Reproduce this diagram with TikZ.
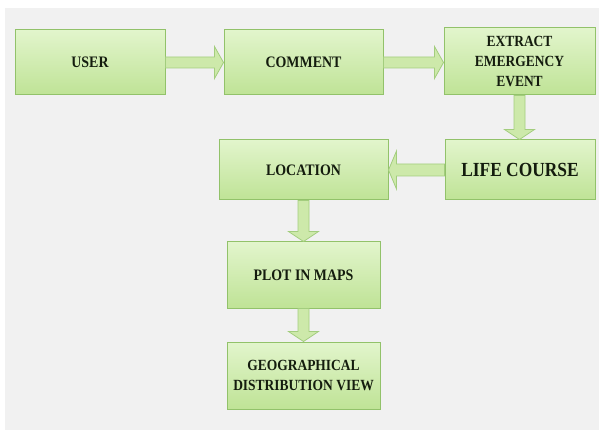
\documentclass[tikz,border=0pt]{standalone}
\usepackage{fontspec}
\setmainfont{Liberation Serif}[FakeStretch=0.87]
\usetikzlibrary{calc}
\definecolor{bgc}{HTML}{F1F1F1}
\definecolor{boxline}{HTML}{92C26A}
\definecolor{boxtop}{HTML}{E2F5CC}
\definecolor{boxbot}{HTML}{BFE396}
\definecolor{arrfill}{HTML}{CDE9AA}
\definecolor{arrline}{HTML}{A3CD7E}
\definecolor{txt}{HTML}{141C0E}
\newcommand\rarrow[2]{\draw[arr] let \p1=(#1), \p2=(#2) in
  (\x1,\y1+5.5pt) -- (\x2-9pt,\y1+5.5pt) -- (\x2-9pt,\y1+16pt) -- (\x2,\y1)
  -- (\x2-9pt,\y1-16pt) -- (\x2-9pt,\y1-5.5pt) -- (\x1,\y1-5.5pt) -- cycle;}
\newcommand\larrow[2]{\draw[arr] let \p1=(#1), \p2=(#2) in
  (\x1,\y1+6pt) -- (\x2+8pt,\y1+6pt) -- (\x2+8pt,\y1+19pt) -- (\x2,\y1)
  -- (\x2+8pt,\y1-19pt) -- (\x2+8pt,\y1-6pt) -- (\x1,\y1-6pt) -- cycle;}
\newcommand\darrow[2]{\draw[arr] let \p1=(#1), \p2=(#2) in
  (\x1-5.5pt,\y1) -- (\x1-5.5pt,\y2+10pt) -- (\x1-15pt,\y2+10pt) -- (\x1,\y2)
  -- (\x1+15pt,\y2+10pt) -- (\x1+5.5pt,\y2+10pt) -- (\x1+5.5pt,\y1) -- cycle;}
\begin{document}
\begin{tikzpicture}[x=1pt,y=-1pt,
  box/.style={draw=boxline, line width=1pt, top color=boxtop, bottom color=boxbot,
    inner sep=0pt, align=center, text=txt,
    font=\fontsize{16}{20}\selectfont\bfseries},
  arr/.style={fill=arrfill, draw=arrline, line width=0.8pt, line join=miter}]
\useasboundingbox (0,0) rectangle (599,430);
\fill[bgc] (5,8) rectangle (599,430);
\node[box, minimum width=150, minimum height=65] (user) at (90,62.5) {USER};
\node[box, minimum width=159, minimum height=65] (comment) at (303.5,62.5) {COMMENT};
\node[box, minimum width=151, minimum height=67, font=\fontsize{15.5}{20}\selectfont\bfseries] (extract) at (519.5,61.5) {EXTRACT\\EMERGENCY\\EVENT};
\node[box, minimum width=150, minimum height=60, font=\fontsize{20}{24}\selectfont\bfseries] (life) at (520,170) {LIFE COURSE};
\node[box, minimum width=169, minimum height=60] (location) at (303.5,170) {LOCATION};
\node[box, minimum width=153, minimum height=66] (plot) at (303.5,275) {PLOT IN MAPS};
\node[box, minimum width=153, minimum height=67, font=\fontsize{15.5}{20}\selectfont\bfseries] (geo) at (303.5,375.5) {GEOGRAPHICAL\\DISTRIBUTION VIEW};
\rarrow{user.east}{comment.west}
\rarrow{comment.east}{extract.west}
\darrow{extract.south}{life.north}
\larrow{life.west}{location.east}
\darrow{location.south}{plot.north}
\darrow{plot.south}{geo.north}
\end{tikzpicture}
\end{document}
